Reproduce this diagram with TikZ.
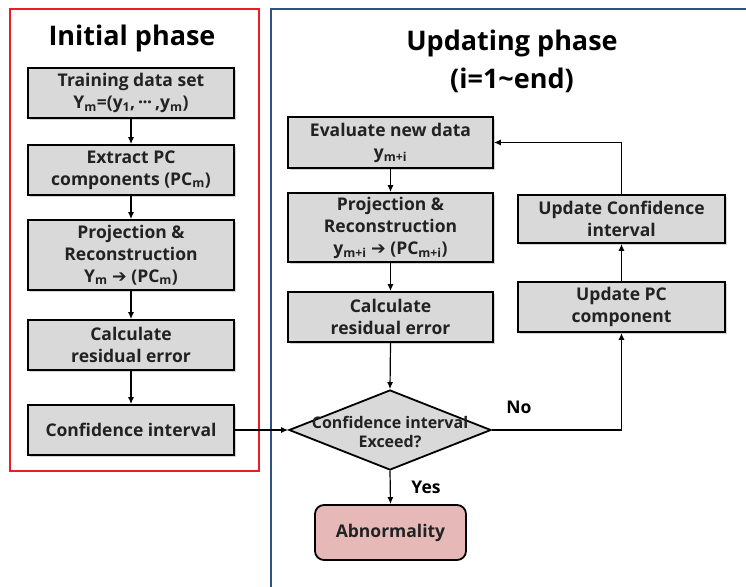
\documentclass[tikz,border=0pt]{standalone}
\usepackage{fontspec}
\setmainfont{Open Sans}
\newfontfamily\symf{DejaVu Sans}
\usetikzlibrary{shapes.geometric,shadows,arrows.meta}
\definecolor{boxgray}{HTML}{D9D9D9}
\definecolor{txtgray}{HTML}{222222}
\definecolor{abpink}{HTML}{E6B9B8}
\definecolor{framered}{HTML}{EC1C24}
\definecolor{frameblue}{HTML}{2F5283}
\newcommand{\sbs}[1]{\textsubscript{#1}}
\newcommand{\arr}{{\symf\bfseries\char"2794}}
\begin{document}
\begin{tikzpicture}[x=1pt,y=-1pt,
  boxtext/.style={font=\bfseries\fontsize{17.5}{22}\selectfont, text=txtgray},
  stepbox/.style={boxtext, draw=black, line width=1.8pt, fill=boxgray, align=center,
    minimum width=206pt, inner sep=1pt,
    drop shadow={shadow xshift=1.5pt, shadow yshift=-1.5pt, opacity=0.35}},
  flow/.style={line width=1.2pt, -{Latex[length=7pt,width=6pt]}},
  title/.style={font=\bfseries\fontsize{27}{38}\selectfont, text=black, align=center}]
\useasboundingbox (0,0) rectangle (746,586);
% frames
\draw[framered, line width=2pt] (10,9) rectangle (259,471);
\draw[frameblue, line width=2pt] (271,600) -- (271,9) -- (760,9);
% titles
\node[title] (t1) at (132,38) {Initial phase};
\node[title] (t2) at (512,61) {Updating phase\\(i=1\char"007E end)};
% left column
\node[stepbox, minimum height=50pt] (tr) at (131,93) {Training data set\\Y\sbs{m}=(y\sbs{1},\,·\kern-0.5pt·\kern-0.5pt·\,,y\sbs{m})};
\node[stepbox, minimum height=50pt] (ex) at (131,170) {Extract PC\\components (PC\sbs{m})};
\node[stepbox, minimum height=70pt] (pr) at (131,255) {Projection \&\\Reconstruction\\Y\sbs{m} \arr{} (PC\sbs{m})};
\node[stepbox, minimum height=50pt] (ca) at (131,345) {Calculate\\residual error};
\node[stepbox, minimum height=50pt] (ci) at (131,430) {Confidence interval};
% middle column
\node[stepbox, minimum width=205pt, minimum height=51pt] (ev) at (390.5,142.5) {Evaluate new data\\y\sbs{m+i}};
\node[stepbox, minimum width=205pt, minimum height=69pt] (pr2) at (390.5,227.5) {Projection \&\\Reconstruction\\y\sbs{m+i} \arr{} (PC\sbs{m+i})};
\node[stepbox, minimum width=205pt, minimum height=50pt] (ca2) at (390.5,317) {Calculate\\residual error};
\node[diamond, draw=black, line width=1.8pt, fill=boxgray, minimum width=202pt, minimum height=80pt, inner sep=0pt] (d) at (390,430) {};
\node[boxtext, align=center, font=\bfseries\fontsize{16}{19}\selectfont] (dt) at (390,432) {Confidence interval\\Exceed?};
\node[boxtext, draw=black, line width=1.8pt, fill=abpink, rounded corners=9pt, minimum width=151pt, minimum height=55pt] (ab) at (390.5,532.5) {Abnormality};
% right column
\node[stepbox, minimum width=207pt, minimum height=48pt] (uc) at (621.5,219) {Update Confidence\\interval};
\node[stepbox, minimum width=207pt, minimum height=50pt] (up) at (621.5,307) {Update PC\\component};
% connectors
\draw[flow] (tr) -- (ex);
\draw[flow] (ex) -- (pr);
\draw[flow] (pr) -- (ca);
\draw[flow] (ca) -- (ci);
\draw[flow] (ci.east) -- (d.west);
\draw[flow] (ev) -- (pr2);
\draw[flow] (pr2) -- (ca2);
\draw[flow] (ca2.south) -- (d.north);
\draw[flow] (d.south) -- (ab.north);
\draw[flow] (d.east) -| (up.south);
\draw[flow] (up) -- (uc);
\draw[flow] (uc.north) |- (ev.east);
% labels
\node[boxtext, text=black] (no) at (519,407) {No};
\node[boxtext, text=black] (yes) at (426,487) {Yes};
\end{tikzpicture}
\end{document}
